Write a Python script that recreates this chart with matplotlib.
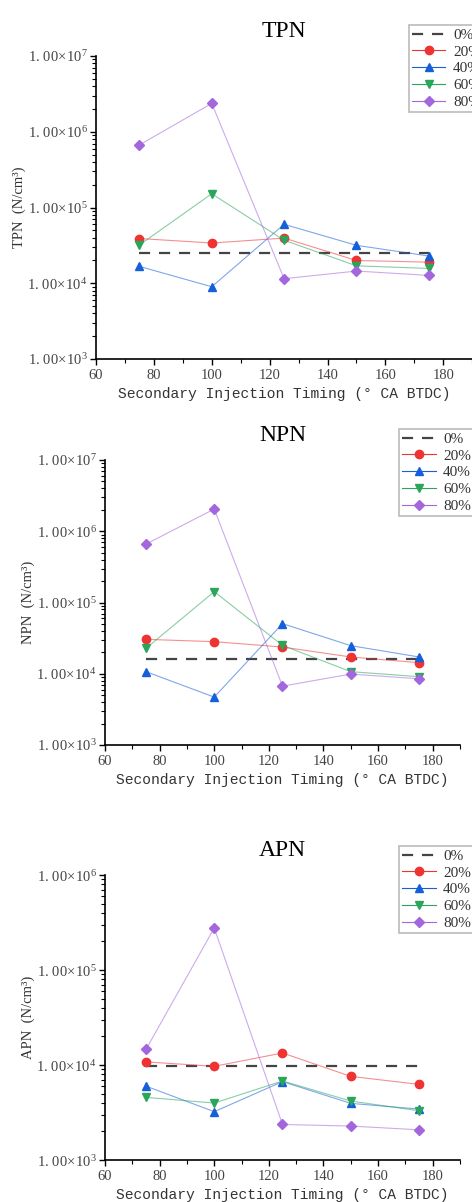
import math
import matplotlib.pyplot as plt
from matplotlib.ticker import FixedLocator, LogLocator, FuncFormatter, NullFormatter

timing = [75, 100, 125, 150, 175]
labels = ['0%', '20%', '40%', '60%', '80%']

tpn_0 = [2.5e4] * 5
tpn_20 = [3.9e4, 3.4e4, 3.95e4, 2.0e4, 1.9e4]
tpn_40 = [1.67e4, 9.0e3, 6.0e4, 3.17e4, 2.29e4]
tpn_60 = [3.2e4, 1.52e5, 3.7e4, 1.7e4, 1.57e4]
tpn_80 = [6.7e5, 2.37e6, 1.15e4, 1.45e4, 1.27e4]

npn_0 = [1.59e4] * 5
npn_20 = [3.04e4, 2.82e4, 2.37e4, 1.72e4, 1.43e4]
npn_40 = [1.07e4, 4.7e3, 5.05e4, 2.48e4, 1.72e4]
npn_60 = [2.27e4, 1.42e5, 2.5e4, 1.07e4, 9.1e3]
npn_80 = [6.6e5, 2.05e6, 6.7e3, 9.9e3, 8.5e3]

apn_0 = [9.85e3] * 5
apn_20 = [1.08e4, 9.7e3, 1.34e4, 7.6e3, 6.26e3]
apn_40 = [6.0e3, 3.23e3, 6.7e3, 3.95e3, 3.44e3]
apn_60 = [4.57e3, 3.98e3, 6.8e3, 4.18e3, 3.3e3]
apn_80 = [1.46e4, 2.77e5, 2.37e3, 2.28e3, 2.08e3]

colors = ['#444444', '#ee3333', '#1560d8', '#2aa55a', '#a466dc']
markers = [None, 'o', '^', 'v', 'D']

panels = [
    ('TPN', [tpn_0, tpn_20, tpn_40, tpn_60, tpn_80], (1e3, 1e7),
     [0.2034, 0.7013, 0.797, 0.2521], (0.866, 0.979)),
    ('NPN', [npn_0, npn_20, npn_40, npn_60, npn_80], (1e3, 1e7),
     [0.2225, 0.3802, 0.752, 0.2371], (0.845, 0.643)),
    ('APN', [apn_0, apn_20, apn_40, apn_60, apn_80], (1e3, 1e6),
     [0.2225, 0.0349, 0.752, 0.2371], (0.845, 0.296)),
]

serif = ['Liberation Serif', 'DejaVu Serif']
mono = ['Liberation Mono', 'DejaVu Sans Mono']
plt.rcParams['font.family'] = serif
plt.rcParams['mathtext.fontset'] = 'stix'


def sci(v, pos):
    e = int(round(math.log10(v)))
    return r'$\mathregular{1.\,00\!\times\!10^{%d}}$' % e


fig = plt.figure(figsize=(4.72, 12.02), dpi=100)

for name, series, ylim, rect, legpos in panels:
    ax = fig.add_axes(rect)
    for i, ys in enumerate(series):
        if i == 0:
            ax.plot(timing, ys, color=colors[0], ls=(0, (5, 4)), lw=1.6,
                    label=labels[0])
        else:
            ms = 6 if markers[i] != 'D' else 5
            ax.plot(timing, ys, color=colors[i], lw=0.8, alpha=0.55)
            ax.plot(timing, ys, color=colors[i], ls='none', marker=markers[i],
                    ms=ms)
            ax.plot([], [], color=colors[i], lw=0.8, alpha=1, marker=markers[i],
                    ms=ms, label=labels[i])
    ax.set_yscale('log')
    ax.set_ylim(*ylim)
    ax.set_xlim(60, 190)
    ax.xaxis.set_major_locator(FixedLocator([60, 80, 100, 120, 140, 160, 180]))
    ax.xaxis.set_minor_locator(FixedLocator([70, 90, 110, 130, 150, 170, 190]))
    ax.yaxis.set_major_locator(LogLocator(base=10, numticks=10))
    ax.yaxis.set_minor_locator(LogLocator(base=10, subs=range(2, 10), numticks=10))
    ax.yaxis.set_major_formatter(FuncFormatter(sci))
    ax.yaxis.set_minor_formatter(NullFormatter())
    ax.spines['top'].set_visible(False)
    ax.spines['right'].set_visible(False)
    ax.spines['left'].set_linewidth(1.2)
    ax.spines['bottom'].set_linewidth(1.2)
    ax.tick_params(which='major', direction='out', length=4, width=1,
                   labelcolor='#444444')
    ax.tick_params(axis='y', which='major', labelsize=10.5, pad=2)
    ax.tick_params(axis='x', which='major', labelsize=10.5)
    ax.tick_params(which='minor', direction='out', length=3, width=0.8)
    ax.set_xlabel('Secondary Injection Timing (° CA BTDC)', family=mono,
                  fontsize=10.5, color='#333333', labelpad=3)
    ax.set_ylabel(name + '  (N/cm³)', fontsize=10.5, color='#333333',
                  labelpad=1)
    ax.set_title(name, fontsize=17, pad=14)
    leg = ax.legend(loc='upper left', bbox_to_anchor=legpos,
                    bbox_transform=fig.transFigure, frameon=True,
                    fancybox=False, shadow=False, fontsize=11,
                    handlelength=2.2, borderpad=0.2, labelspacing=0.2,
                    handletextpad=0.5, borderaxespad=0)
    leg.get_frame().set_edgecolor('#aaaaaa')
    leg.get_frame().set_linewidth(1.2)
    for t in leg.get_texts():
        t.set_color('#333333')

fig.savefig('out.png', dpi=100)
